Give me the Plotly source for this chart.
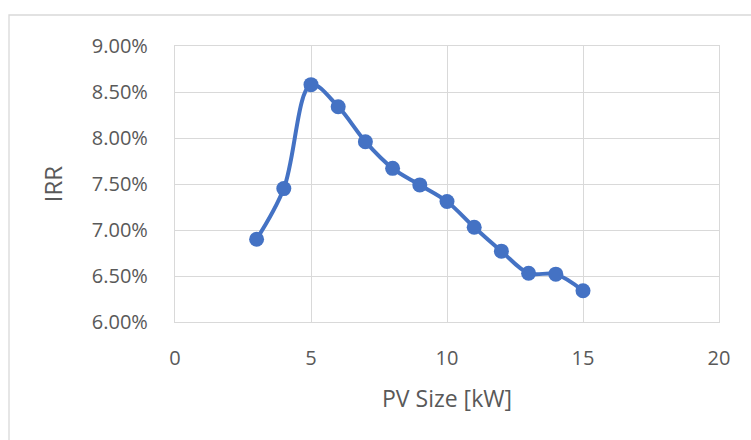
import plotly.graph_objects as go

pv_size = [3, 4, 5, 6, 7, 8, 9, 10, 11, 12, 13, 14, 15]
irr = [0.0690, 0.0745, 0.0858, 0.0834, 0.0796, 0.0767, 0.0749, 0.0731, 0.0703, 0.0677, 0.0653, 0.0652, 0.0634]

x_ticks = [0, 5, 10, 15, 20]
y_ticks = [0.06, 0.065, 0.07, 0.075, 0.08, 0.085, 0.09]

L, R, T, B = 175, 32, 46, 118
W, H = 751, 440
pw, ph = W - L - R, H - T - B

fig = go.Figure()
fig.add_trace(go.Scatter(
    x=pv_size, y=irr, mode="lines+markers",
    line=dict(color="#4472C4", width=4, shape="spline", smoothing=1.0),
    marker=dict(color="#4472C4", size=15),
    showlegend=False,
))

font_family = "Open Sans, Liberation Sans, sans-serif"
fig.update_layout(
    width=W, height=H,
    margin=dict(l=L, r=R, t=T, b=B),
    paper_bgcolor="white", plot_bgcolor="white",
    font=dict(family=font_family, color="#595959", size=20),
    xaxis=dict(
        range=[0, 20], tickvals=x_ticks, ticktext=[str(v) for v in x_ticks],
        showgrid=True, gridcolor="#D9D9D9", gridwidth=1.3,
        showline=True, linecolor="#D9D9D9", linewidth=1.3, mirror=True,
        zeroline=False, ticks="", ticklabelstandoff=18,
        tickfont=dict(size=20),
        title=dict(text="PV Size [kW]", font=dict(size=23, color="#595959"), standoff=20),
    ),
    yaxis=dict(
        range=[0.06, 0.09], tickvals=y_ticks,
        ticktext=[f"{v*100:.2f}%" for v in y_ticks],
        showgrid=True, gridcolor="#D9D9D9", gridwidth=1.3,
        showline=True, linecolor="#D9D9D9", linewidth=1.3, mirror=True,
        zeroline=False, ticks="", ticklabelstandoff=22,
        tickfont=dict(size=20),
        title=dict(text="IRR", font=dict(size=24, color="#595959"), standoff=22),
    ),
    shapes=[dict(
        type="rect", xref="paper", yref="paper",
        x0=(9 - L) / pw, x1=(W + 20 - L) / pw,
        y0=-(H + 20 - T - ph) / ph, y1=1 + (T - 15) / ph,
        line=dict(color="#D9D9D9", width=1.3), fillcolor="rgba(0,0,0,0)", layer="below",
    )],
)

fig.write_html("out.html")
